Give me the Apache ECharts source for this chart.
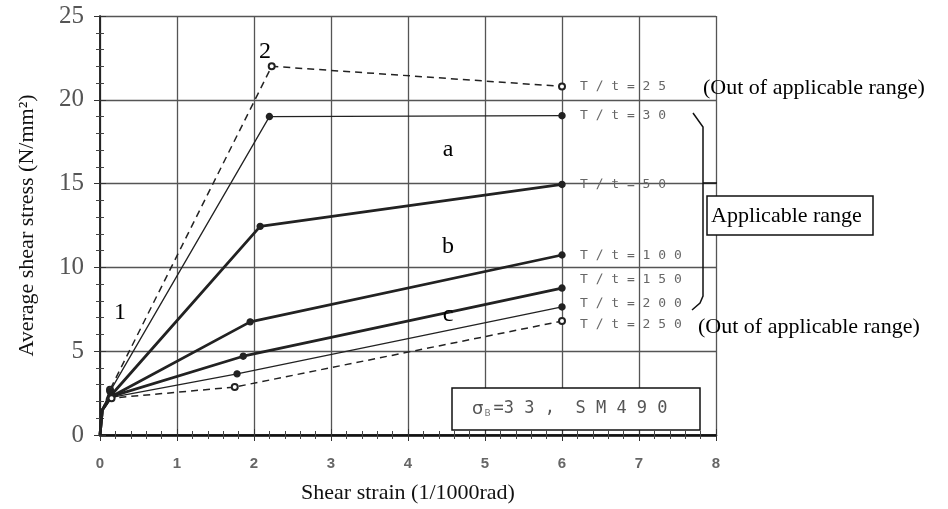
<!DOCTYPE html>
<html lang="en">
<head>
    <meta charset="UTF-8">
    <title>Shear stress vs shear strain</title>
    <script src="https://cdn.jsdelivr.net/npm/echarts@6/dist/echarts.min.js"></script>
    <style>
        html, body { margin: 0; padding: 0; background: #fff; }
        #chart { width: 948px; height: 509px; }
    </style>
</head>
<body>
    <div id="chart"></div>
    <script>
        // ticks
        const xTicks = [0, 1, 2, 3, 4, 5, 6, 7, 8];
        const yTicks = [0, 5, 10, 15, 20, 25];

        // curves, [strain, stress]
        const seriesNames = ['T/t=25', 'T/t=30', 'T/t=50', 'T/t=100', 'T/t=150', 'T/t=200', 'T/t=250'];
        const tt25 = [[0, 0], [0.03, 1.5], [0.13, 2.7], [2.23, 22.0], [6, 20.8]];
        const tt30 = [[0, 0], [0.03, 1.5], [0.13, 2.6], [2.2, 19.0], [6, 19.05]];
        const tt50 = [[0, 0], [0.03, 1.5], [0.15, 2.4], [2.08, 12.45], [6, 14.95]];
        const tt100 = [[0, 0], [0.03, 1.5], [0.15, 2.3], [1.95, 6.75], [6, 10.74]];
        const tt150 = [[0, 0], [0.03, 1.5], [0.15, 2.3], [1.86, 4.7], [6, 8.77]];
        const tt200 = [[0, 0], [0.03, 1.5], [0.15, 2.25], [1.78, 3.65], [6, 7.64]];
        const tt250 = [[0, 0], [0.03, 1.5], [0.15, 2.2], [1.75, 2.86], [6, 6.8]];

        const curves = [tt25, tt30, tt50, tt100, tt150, tt200, tt250];
        const widths = [1.5, 1.3, 2.8, 2.8, 2.8, 1.3, 1.5];
        const dashed = [true, false, false, false, false, false, true];
        // vertical nudge of the end labels so they don't collide
        const labelShift = [0, 0, 0, 1, -8, -3, 4];

        const serif = 'Liberation Serif';
        const ink = '#222';

        const chart = echarts.init(document.getElementById('chart'));

        const series = curves.map(function (pts, i) {
            return {
                name: seriesNames[i],
                type: 'line',
                data: pts,
                symbol: dashed[i] ? 'emptyCircle' : 'circle',
                symbolSize: function (v, p) { return p.dataIndex < 2 ? 0 : 6; },
                showAllSymbol: true,
                lineStyle: { color: ink, width: widths[i], type: dashed[i] ? [7, 5] : 'solid' },
                itemStyle: { color: ink, borderColor: ink, borderWidth: 1.4 },
                endLabel: {
                    show: true,
                    distance: 18,
                    offset: [0, labelShift[i]],
                    formatter: function (p) { return p.seriesName.replace('/', '∕').split('').join(' '); },
                    fontFamily: 'DejaVu Sans Mono',
                    fontSize: 13,
                    color: '#666'
                },
                z: 3
            };
        });

        const baseAxis = {
            axisLine: { show: true, lineStyle: { color: ink, width: 1.5 } },
            axisTick: { show: true, inside: true, length: 6, lineStyle: { color: '#333' } },
            minorTick: { show: true, splitNumber: 5, length: 4, lineStyle: { color: '#444' } }
        };

        chart.setOption({
            animation: false,
            backgroundColor: '#fff',
            grid: { left: 100, right: 232, top: 16, bottom: 74 },
            xAxis: [
                Object.assign({}, baseAxis, {
                    type: 'value',
                    min: xTicks[0],
                    max: xTicks[xTicks.length - 1],
                    interval: 1,
                    position: 'bottom',
                    splitLine: { show: true, lineStyle: { color: '#555', width: 1.3 } },
                    axisLabel: {
                        margin: 21,
                        color: '#666',
                        fontWeight: 'bold',
                        fontSize: 15,
                        fontFamily: 'Liberation Sans'
                    },
                    name: 'Shear strain (1/1000rad)',
                    nameLocation: 'middle',
                    nameGap: 47,
                    nameTextStyle: { fontFamily: serif, fontSize: 22, color: '#111' }
                }),
                Object.assign({}, baseAxis, {
                    type: 'value',
                    min: xTicks[0],
                    max: xTicks[xTicks.length - 1],
                    interval: 1,
                    position: 'top',
                    axisLine: { show: true, lineStyle: { color: '#111', width: 2.5 } },
                    axisLabel: { show: false },
                    splitLine: { show: false }
                })
            ],
            yAxis: [
                Object.assign({}, baseAxis, {
                    type: 'value',
                    min: yTicks[0],
                    max: yTicks[yTicks.length - 1],
                    interval: 5,
                    position: 'left',
                    splitLine: { show: true, lineStyle: { color: '#555', width: 1.3 } },
                    axisLabel: { margin: 16, color: '#555', fontSize: 25, fontFamily: serif },
                    name: 'Average shear stress (N/mm²)',
                    nameLocation: 'middle',
                    nameRotate: 90,
                    nameGap: 62,
                    nameTextStyle: { fontFamily: serif, fontSize: 22, color: '#111' }
                }),
                Object.assign({}, baseAxis, {
                    type: 'value',
                    min: yTicks[0],
                    max: yTicks[yTicks.length - 1],
                    interval: 5,
                    position: 'right',
                    axisLabel: { show: false },
                    splitLine: { show: false }
                })
            ],
            series: series,
            graphic: {
                elements: [
                    { type: 'text', x: 120, y: 313, style: { text: '1', font: '24px "Liberation Serif"', fill: '#000', align: 'center', verticalAlign: 'middle' }, z: 10 },
                    { type: 'text', x: 265, y: 52, style: { text: '2', font: '24px "Liberation Serif"', fill: '#000', align: 'center', verticalAlign: 'middle' }, z: 10 },
                    { type: 'text', x: 448, y: 150, style: { text: 'a', font: '24px "Liberation Serif"', fill: '#000', align: 'center', verticalAlign: 'middle' }, z: 10 },
                    { type: 'text', x: 448, y: 247, style: { text: 'b', font: '24px "Liberation Serif"', fill: '#000', align: 'center', verticalAlign: 'middle' }, z: 10 },
                    { type: 'text', x: 448, y: 315, style: { text: 'c', font: '24px "Liberation Serif"', fill: '#000', align: 'center', verticalAlign: 'middle' }, z: 10 },
                    { type: 'text', x: 703, y: 88, style: { text: '(Out of applicable range)', font: '22px "Liberation Serif"', fill: '#000', verticalAlign: 'middle' }, z: 10 },
                    { type: 'text', x: 698, y: 327, style: { text: '(Out of applicable range)', font: '22px "Liberation Serif"', fill: '#000', verticalAlign: 'middle' }, z: 10 },
                    {
                        type: 'polyline', z: 10,
                        shape: { points: [[693, 113], [703, 127], [703, 296], [700, 303], [692, 310]] },
                        style: { stroke: '#111', lineWidth: 1.5, fill: null }
                    },
                    {
                        type: 'line', z: 10,
                        shape: { x1: 703, y1: 183, x2: 717, y2: 183 },
                        style: { stroke: '#111', lineWidth: 1.5 }
                    },
                    {
                        type: 'rect', z: 10,
                        shape: { x: 707, y: 196, width: 166, height: 39 },
                        style: { fill: '#fff', stroke: '#111', lineWidth: 1.5 }
                    },
                    { type: 'text', x: 711, y: 216, style: { text: 'Applicable range', font: '22px "Liberation Serif"', fill: '#000', verticalAlign: 'middle' }, z: 11 },
                    {
                        type: 'rect', z: 10,
                        shape: { x: 452, y: 388, width: 248, height: 42 },
                        style: { fill: '#fff', stroke: '#111', lineWidth: 1.5 }
                    },
                    {
                        type: 'text', x: 472, y: 409, z: 11,
                        style: {
                            text: '{s|σ}{b|B}{t|=3 3 ,  S M 4 9 0}',
                            verticalAlign: 'middle',
                            rich: {
                                s: { fontFamily: 'DejaVu Sans', fontSize: 18, fill: '#555' },
                                b: { fontFamily: 'DejaVu Sans', fontSize: 9, fill: '#777', padding: [10, 3, 0, 1] },
                                t: { fontFamily: 'DejaVu Sans Mono', fontSize: 17, fill: '#555' }
                            }
                        }
                    }
                ]
            }
        });
    </script>
</body>
</html>
